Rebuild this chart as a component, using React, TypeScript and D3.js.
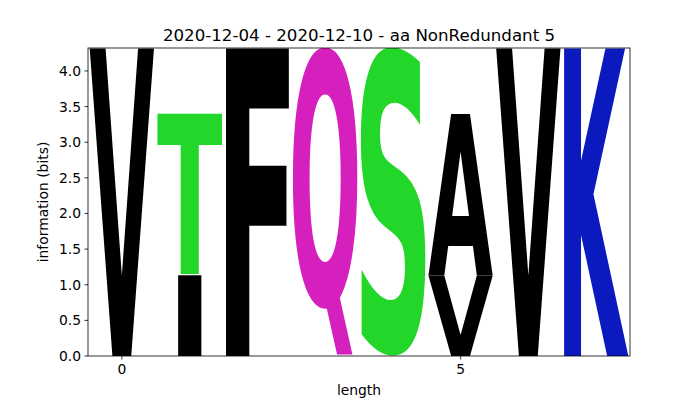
import React, { useMemo } from "react";
import * as d3 from "d3";

const positions = [0, 1, 2, 3, 4, 5, 6, 7];
const bottomChars = ["V", "I", "F", "Q", "S", "V", "V", "K"];
const bottomHeights = [4.32, 1.135, 4.32, 4.32, 4.32, 1.135, 4.32, 4.32];
const topChars = ["", "T", "", "", "", "A", "", ""];
const topHeights = [0, 2.27, 0, 0, 0, 2.27, 0, 0];
const yTicks = [0, 0.5, 1.0, 1.5, 2.0, 2.5, 3.0, 3.5, 4.0];
const xTicks = [0, 5];
const colorMap: Record<string, string> = {
  V: "#000000",
  I: "#000000",
  F: "#000000",
  A: "#000000",
  T: "#22d62a",
  S: "#22d62a",
  Q: "#d520be",
  K: "#0a1abe",
};
const title = "2020-12-04 - 2020-12-10 - aa NonRedundant 5";

const W = 700;
const H = 400;
const M = { left: 88, right: 630, top: 48, bottom: 356 };
const FONT = "DejaVu Sans";
const GF = 200;

type Ink = { L: number; R: number; A: number; D: number };

function useInk(): (c: string) => Ink {
  return useMemo(() => {
    const CW = 500;
    const CH = 500;
    const OX = 150;
    const OY = 350;
    const canvas = document.createElement("canvas");
    canvas.width = CW;
    canvas.height = CH;
    const ctx = canvas.getContext("2d", { willReadFrequently: true } as any)! as CanvasRenderingContext2D;
    const cache: Record<string, Ink> = {};
    return (c: string) => {
      if (!cache[c]) {
        ctx.clearRect(0, 0, CW, CH);
        ctx.font = `bold ${GF}px '${FONT}'`;
        ctx.textBaseline = "alphabetic";
        ctx.fillStyle = "#000";
        ctx.fillText(c, OX, OY);
        const data = ctx.getImageData(0, 0, CW, CH).data;
        let minX = CW, maxX = -1, minY = CH, maxY = -1;
        for (let yy = 0; yy < CH; yy++) {
          for (let xx = 0; xx < CW; xx++) {
            if (data[(yy * CW + xx) * 4 + 3] > 100) {
              if (xx < minX) minX = xx;
              if (xx > maxX) maxX = xx;
              if (yy < minY) minY = yy;
              if (yy > maxY) maxY = yy;
            }
          }
        }
        if (maxX < 0) {
          const m = ctx.measureText(c);
          cache[c] = {
            L: m.actualBoundingBoxLeft,
            R: m.actualBoundingBoxRight,
            A: m.actualBoundingBoxAscent,
            D: m.actualBoundingBoxDescent,
          };
        } else {
          cache[c] = {
            L: OX - minX,
            R: maxX + 1 - OX,
            A: OY - minY,
            D: maxY + 1 - OY,
          };
        }
      }
      return cache[c];
    };
  }, []);
}

export default function App() {
  const x = d3.scaleLinear().domain([-0.5, 7.5]).range([M.left, M.right]);
  const y = d3.scaleLinear().domain([0, 4.3219]).range([M.bottom, M.top]);
  const ink = useInk();
  const widthFrac = 0.95;
  const unit = x(1) - x(0);
  const boxW = unit * widthFrac;
  const eInk = ink("E");
  const eW = eInk.L + eInk.R;

  const glyph = (c: string, pos: number, y0: number, h: number, key: string) => {
    if (!c || h <= 0) return null;
    const g = ink(c);
    const gw = g.L + g.R;
    let sx = boxW / gw;
    const maxSx = boxW / eW;
    if (sx > maxSx) sx = maxSx;
    const drawnW = gw * sx;
    const x0 = x(pos) - drawnW / 2;
    const yTop = y(y0 + h);
    const yBot = y(y0);
    const sy = (yBot - yTop) / (g.A + g.D);
    return (
      <text
        key={key}
        x={0}
        y={0}
        fontFamily={FONT}
        fontWeight="bold"
        fontSize={GF}
        fill={colorMap[c]}
        transform={`translate(${x0},${yTop}) scale(${sx},${sy}) translate(${g.L},${g.A})`}
      >
        {c}
      </text>
    );
  };

  return (
    <svg width={W} height={H} style={{ position: "absolute", left: 0, top: 0 }}>
      <rect width={W} height={H} fill="#fff" />
      <defs>
        <clipPath id="plotclip">
          <rect x={M.left} y={M.top} width={M.right - M.left} height={M.bottom - M.top} />
        </clipPath>
      </defs>
      <g clipPath="url(#plotclip)">
        {positions.map((p, i) => glyph(bottomChars[i], p, 0, bottomHeights[i], `b${i}`))}
        {positions.map((p, i) => glyph(topChars[i], p, bottomHeights[i], topHeights[i], `t${i}`))}
      </g>
      <rect
        x={M.left}
        y={M.top}
        width={M.right - M.left}
        height={M.bottom - M.top}
        fill="none"
        stroke="#000"
        strokeWidth={0.8}
      />
      {yTicks.map((t) => (
        <g key={`y${t}`}>
          <line x1={M.left - 3.5} x2={M.left} y1={y(t)} y2={y(t)} stroke="#000" strokeWidth={0.8} />
          <text
            x={M.left - 7}
            y={y(t)}
            dy="0.36em"
            textAnchor="end"
            fontFamily={FONT}
            fontSize={13.89}
            fill="#000"
          >
            {t.toFixed(1)}
          </text>
        </g>
      ))}
      {xTicks.map((t) => (
        <g key={`x${t}`}>
          <line x1={x(t)} x2={x(t)} y1={M.bottom} y2={M.bottom + 3.5} stroke="#000" strokeWidth={0.8} />
          <text
            x={x(t)}
            y={M.bottom + 7 + 10.6}
            textAnchor="middle"
            fontFamily={FONT}
            fontSize={13.89}
            fill="#000"
          >
            {t}
          </text>
        </g>
      ))}
      <text
        x={(M.left + M.right) / 2}
        y={395}
        textAnchor="middle"
        fontFamily={FONT}
        fontSize={13.89}
        fill="#000"
      >
        length
      </text>
      <text
        transform={`translate(47.5,${(M.top + M.bottom) / 2}) rotate(-90)`}
        textAnchor="middle"
        fontFamily={FONT}
        fontSize={13.89}
        fill="#000"
      >
        information (bits)
      </text>
      <text
        x={(M.left + M.right) / 2}
        y={41}
        textAnchor="middle"
        fontFamily={FONT}
        fontSize={16.67}
        fill="#000"
      >
        {title}
      </text>
    </svg>
  );
}
